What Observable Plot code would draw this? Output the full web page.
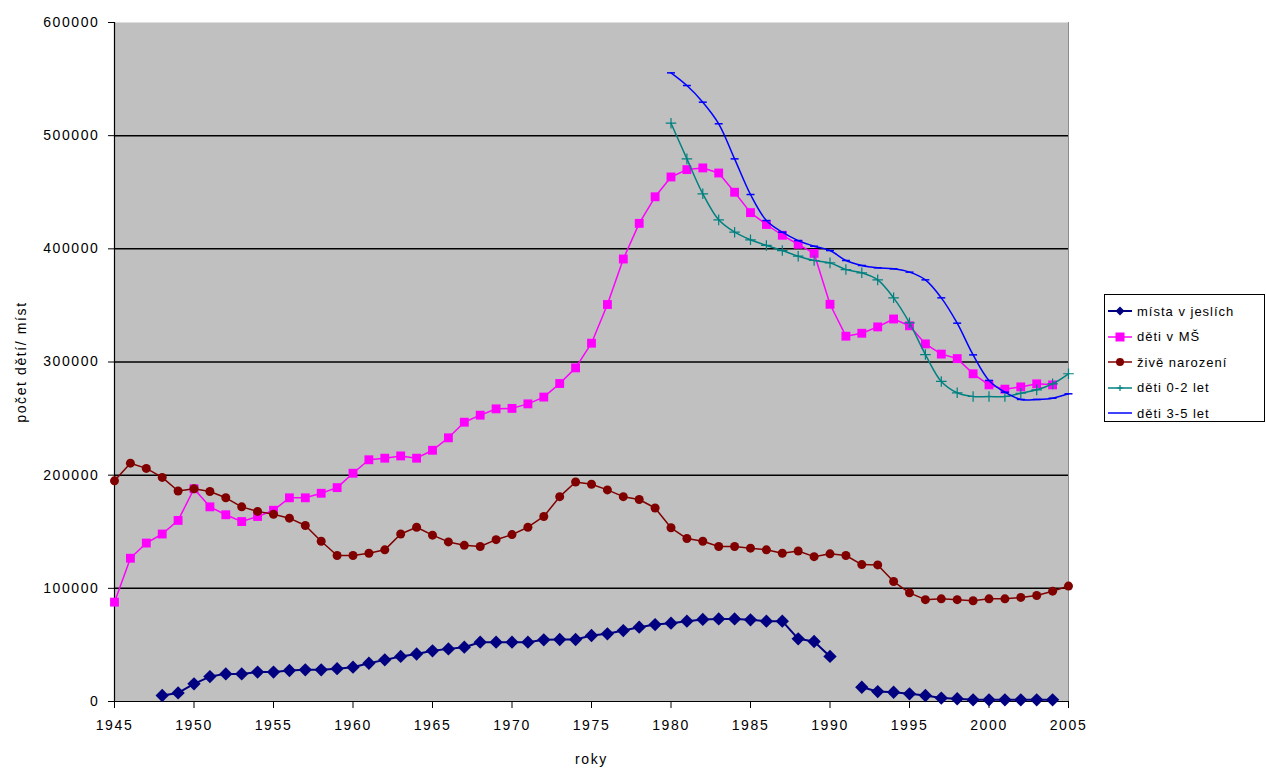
<!DOCTYPE html>
<html>
<head>
<meta charset="utf-8">
<script src="https://cdn.jsdelivr.net/npm/d3@7"></script>
<script src="https://cdn.jsdelivr.net/npm/@observablehq/plot@0.6"></script>
<style>
  html, body { margin: 0; padding: 0; background: #fff; }
  #wrap { position: relative; width: 1266px; height: 769px; }
  #legend { position: absolute; left: 1104px; top: 294px; width: 159px; height: 126px;
    border: 1px solid #000; background: #fff; font-family: "Liberation Sans", Arial, sans-serif;
    font-size: 13px; letter-spacing: 1px; color: #000; box-sizing: content-box; }
  .row { position: absolute; left: 0; height: 20px; display: flex; align-items: center; }
  .row svg { margin-left: 3px; margin-right: 5px; }
</style>
</head>
<body>
<div id="wrap">
  <div id="chart"></div>
  <div id="legend"></div>
</div>
<script>
// ---- data ----
const years = [1945,1946,1947,1948,1949,1950,1951,1952,1953,1954,1955,1956,1957,1958,1959,
  1960,1961,1962,1963,1964,1965,1966,1967,1968,1969,1970,1971,1972,1973,1974,
  1975,1976,1977,1978,1979,1980,1981,1982,1983,1984,1985,1986,1987,1988,1989,
  1990,1991,1992,1993,1994,1995,1996,1997,1998,1999,2000,2001,2002,2003,2004,2005];

const mistaVJeslich = [null,null,null,5300,7600,15600,22000,24400,24400,26000,26000,27400,28000,28000,29000,
  30300,33800,36800,39800,42000,44800,46500,48000,52400,52400,52400,52400,54500,54800,54800,
  58300,59800,62700,65700,68000,69200,71000,72500,73000,73000,72200,71000,71000,55400,53000,
  39800,null,12600,8800,8200,6800,5300,3000,2400,1500,1500,1500,1500,1500,1500,null];

const detiVMS = [87800,126600,140000,148000,160000,188000,172000,165000,159000,163500,169000,180000,180000,184000,189000,
  201700,213600,215000,217000,215000,222000,233000,246800,253000,258600,259000,263000,269000,281000,294800,
  316600,350800,391000,422500,446000,463500,470000,471500,467000,450000,432000,421500,412000,404000,396000,
  351000,322800,325400,331000,338000,332000,316000,307000,303000,289600,279800,276000,278000,280700,279800,null];

const ziveNarozeni = [195000,210600,206000,198000,186000,188000,185600,180000,172000,168000,165500,162000,155500,141600,129000,
  129000,131000,134000,148000,154000,147000,141000,138000,137000,143000,147500,154000,163500,181000,194000,
  192000,187000,181000,178500,171000,153500,144000,141600,137000,137000,135500,134000,131000,133000,128000,
  130500,129000,121000,120700,106000,96000,90000,90700,90000,89000,90700,90700,92000,93700,97500,102000];

const yearsDeti = [1980,1981,1982,1983,1984,1985,1986,1987,1988,1989,1990,1991,1992,
  1993,1994,1995,1996,1997,1998,1999,2000,2001,2002,2003,2004,2005];

const deti02 = [511000,479500,448600,425600,414700,408000,403000,398500,393500,389700,387600,381700,378800,
  372600,356700,334600,306600,282800,272800,269500,269500,269500,272400,275400,280700,289600];

const deti35 = [555500,544300,529600,510500,479500,448000,425000,414700,407300,402300,398500,389700,385300,
  383200,382300,379400,372600,356700,334300,306300,283700,273300,266900,266900,268000,271900];

const yTicks = [0,100000,200000,300000,400000,500000,600000];
const gridValues = [100000,200000,300000,400000,500000];
const xTicks = [1945,1950,1955,1960,1965,1970,1975,1980,1985,1990,1995,2000,2005];

const seriesNames = ["místa v jeslích","děti v MŠ","živě narození","děti 0-2 let","děti 3-5 let"];
const seriesColors = ["#000080","#ff00ff","#800000","#008080","#0000ff"];

// ---- tables ----
const toRows = (xs, vs) => xs.map((x, i) => ({year: x, value: vs[i]}));
const tJesle = toRows(years, mistaVJeslich);
const tMS = toRows(years, detiVMS);
const tNar = toRows(years, ziveNarozeni);
const t02 = toRows(yearsDeti, deti02);
const t35 = toRows(yearsDeti, deti35);

const dash = { draw(context, size) { const w = Math.sqrt(size) * 0.9; context.moveTo(-w, 0); context.lineTo(w, 0); } };

const chart = Plot.plot({
  width: 1266, height: 769,
  marginLeft: 114, marginRight: 198, marginTop: 22, marginBottom: 68,
  style: { fontFamily: "'Liberation Sans', Arial, sans-serif", fontSize: "14px", letterSpacing: "1.6px", color: "#000", background: "#fff" },
  x: { domain: [1945, 2005] },
  y: { domain: [0, 600000] },
  marks: [
    Plot.frame({ fill: "#c0c0c0", stroke: null }),
    Plot.ruleY(gridValues, { stroke: "#000", strokeWidth: 1.5 }),
    Plot.ruleX([2005], { stroke: "#8c8c8c", strokeWidth: 1 }),
    Plot.axisY({ ticks: yTicks, tickFormat: "d", tickSize: 6, tickPadding: 9, label: "počet dětí/ míst",
      labelAnchor: "center", labelOffset: 98, labelArrow: "none" }),
    Plot.axisX({ ticks: xTicks, tickFormat: "d", tickSize: 7, tickPadding: 12, label: "roky",
      labelAnchor: "center", labelOffset: 62, labelArrow: "none" }),
    Plot.ruleX([1945], { stroke: "#000", strokeWidth: 1.2 }),
    Plot.ruleY([0], { stroke: "#000", strokeWidth: 1.2 }),

    Plot.line(tJesle, { x: "year", y: "value", stroke: seriesColors[0], strokeWidth: 2 }),
    Plot.dot(tJesle, { x: "year", y: "value", symbol: "diamond2", fill: seriesColors[0], r: 6, stroke: null }),

    Plot.line(tMS, { x: "year", y: "value", stroke: seriesColors[1], strokeWidth: 1.5 }),
    Plot.dot(tMS, { x: "year", y: "value", symbol: "square", fill: seriesColors[1], r: 5, stroke: null }),

    Plot.line(tNar, { x: "year", y: "value", stroke: seriesColors[2], strokeWidth: 1.5 }),
    Plot.dot(tNar, { x: "year", y: "value", symbol: "circle", fill: seriesColors[2], r: 4.5, stroke: null }),

    Plot.line(t02, { x: "year", y: "value", stroke: seriesColors[3], strokeWidth: 1.5, curve: "catmull-rom" }),
    Plot.dot(t02, { x: "year", y: "value", symbol: "plus", stroke: seriesColors[3], r: 3.5, strokeWidth: 1.2 }),

    Plot.line(t35, { x: "year", y: "value", stroke: seriesColors[4], strokeWidth: 1.5, curve: "catmull-rom" }),
    Plot.dot(t35, { x: "year", y: "value", symbol: dash, stroke: seriesColors[4], r: 2.5, strokeWidth: 1.5 })
  ]
});
document.getElementById("chart").appendChild(chart);

// ---- legend ----
const legend = document.getElementById("legend");
const markerSvg = [
  `<path d="M12,1.5 L16.5,6 L12,10.5 L7.5,6 Z" fill="#000080"/>`,
  `<rect x="7.5" y="1.5" width="9" height="9" fill="#ff00ff"/>`,
  `<circle cx="12" cy="6" r="4" fill="#800000"/>`,
  `<path d="M12,3 L12,9 M9,6 L15,6" stroke="#008080" stroke-width="1.2"/>`,
  ``
];
seriesNames.forEach((name, i) => {
  const row = document.createElement("div");
  row.className = "row";
  row.style.top = (6 + i * 25.6) + "px";
  row.innerHTML = `<svg width="24" height="12"><line x1="0" y1="6" x2="24" y2="6" stroke="${seriesColors[i]}" stroke-width="${i===0?2:1.5}"/>${markerSvg[i]}</svg><span>${name}</span>`;
  legend.appendChild(row);
});
</script>
</body>
</html>
